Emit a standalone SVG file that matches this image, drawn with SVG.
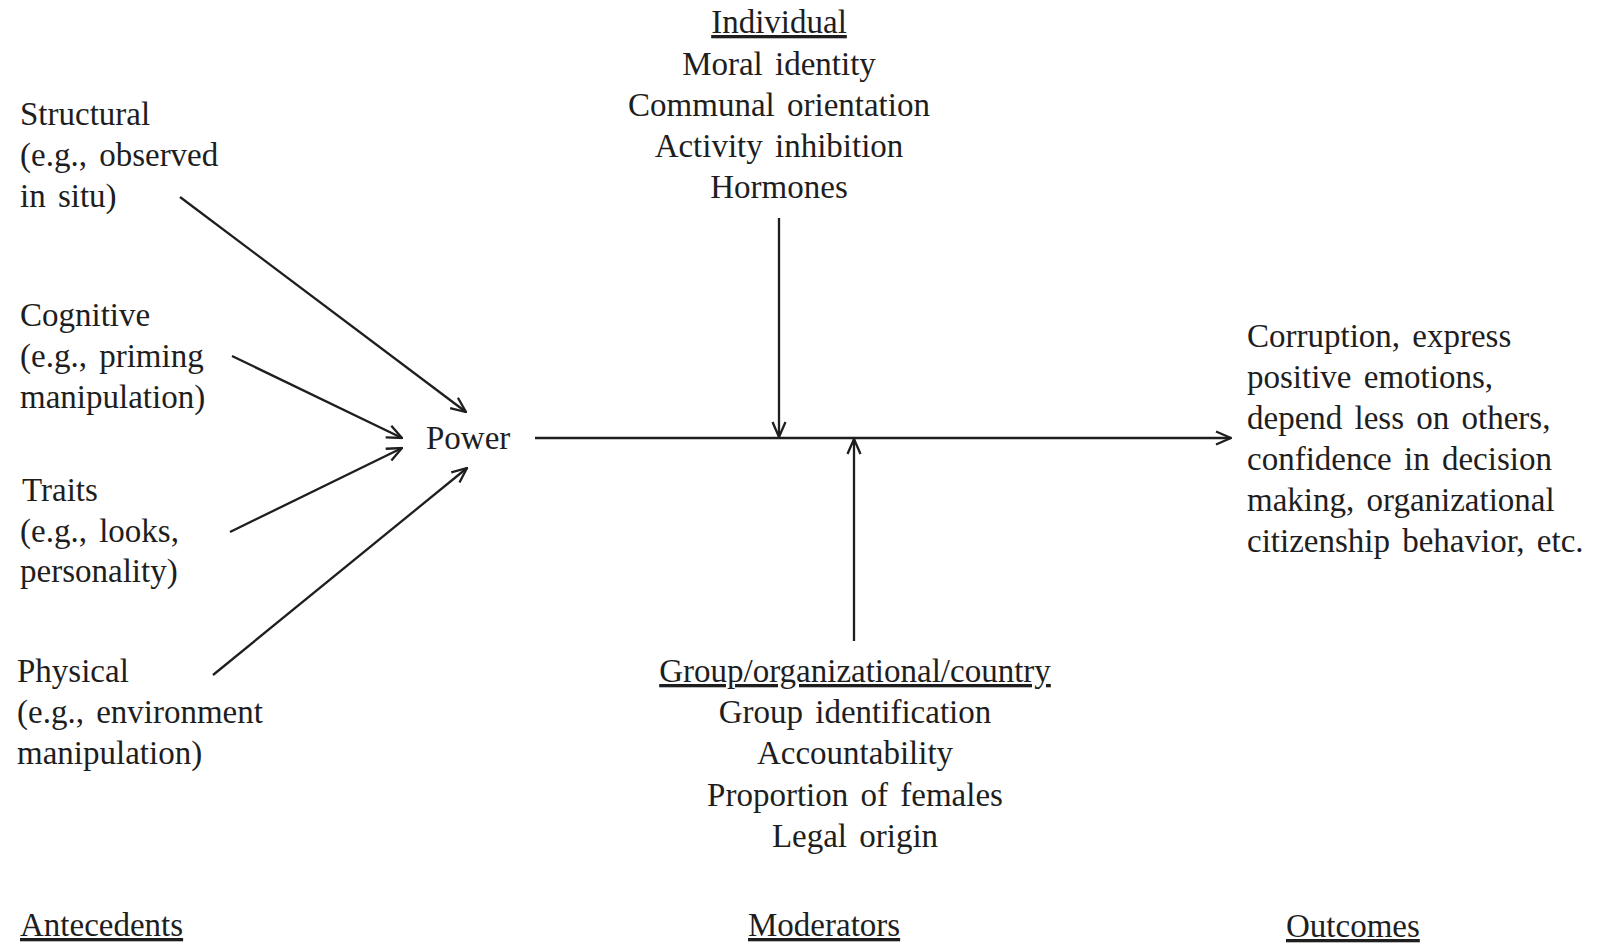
<svg xmlns="http://www.w3.org/2000/svg" width="1600" height="947" viewBox="0 0 1600 947">
<style>
text{font-family:"Liberation Serif","Times New Roman",serif;font-size:33px;fill:#1e1e1e;word-spacing:4px}
.c{text-anchor:middle}
.u{text-decoration:underline}
.ln{stroke:#1e1e1e;stroke-width:2.3;fill:none}
</style>
<defs>
<marker id="arr" viewBox="0 0 18 18" refX="17" refY="9" markerWidth="18" markerHeight="18" orient="auto" markerUnits="userSpaceOnUse">
<path d="M2,2.5 L17,9 L2,15.5" fill="none" stroke="#1e1e1e" stroke-width="2.3"/>
</marker>
</defs>
<rect width="1600" height="947" fill="#fff"/>
<g id="connectors">
<line class="ln" x1="180" y1="197" x2="466" y2="412" marker-end="url(#arr)"/>
<line class="ln" x1="232" y1="356" x2="402" y2="438" marker-end="url(#arr)"/>
<line class="ln" x1="230" y1="532" x2="402" y2="448" marker-end="url(#arr)"/>
<line class="ln" x1="213" y1="675" x2="467" y2="468" marker-end="url(#arr)"/>
<line class="ln" x1="535" y1="438" x2="1231" y2="438" marker-end="url(#arr)"/>
<line class="ln" x1="779" y1="218" x2="779" y2="437" marker-end="url(#arr)"/>
<line class="ln" x1="854" y1="641" x2="854" y2="439" marker-end="url(#arr)"/>
</g>
<g id="structural">
<text x="20" y="125">Structural</text>
<text x="20" y="166">(e.g., observed</text>
<text x="20" y="207">in situ)</text>
</g>
<g id="cognitive">
<text x="20" y="326">Cognitive</text>
<text x="20" y="367">(e.g., priming</text>
<text x="20" y="408">manipulation)</text>
</g>
<g id="traits">
<text x="22" y="501">Traits</text>
<text x="20" y="542">(e.g., looks,</text>
<text x="20" y="582">personality)</text>
</g>
<g id="physical">
<text x="17" y="682">Physical</text>
<text x="17" y="723">(e.g., environment</text>
<text x="17" y="764">manipulation)</text>
</g>
<g id="power">
<text x="426" y="449">Power</text>
</g>
<g id="individual">
<text class="c u" x="779" y="33">Individual</text>
<text class="c" x="779" y="75">Moral identity</text>
<text class="c" x="779" y="116">Communal orientation</text>
<text class="c" x="779" y="157">Activity inhibition</text>
<text class="c" x="779" y="198">Hormones</text>
</g>
<g id="group">
<text class="c u" x="855" y="682">Group/organizational/country</text>
<text class="c" x="855" y="723">Group identification</text>
<text class="c" x="855" y="764">Accountability</text>
<text class="c" x="855" y="806">Proportion of females</text>
<text class="c" x="855" y="847">Legal origin</text>
</g>
<g id="outcomes">
<text x="1247" y="347">Corruption, express</text>
<text x="1247" y="388">positive emotions,</text>
<text x="1247" y="429">depend less on others,</text>
<text x="1247" y="470">confidence in decision</text>
<text x="1247" y="511">making, organizational</text>
<text x="1247" y="552">citizenship behavior, etc.</text>
</g>
<g id="labels">
<text class="u" x="20" y="936">Antecedents</text>
<text class="u" x="748" y="936">Moderators</text>
<text class="u" x="1286" y="937">Outcomes</text>
</g>
</svg>
